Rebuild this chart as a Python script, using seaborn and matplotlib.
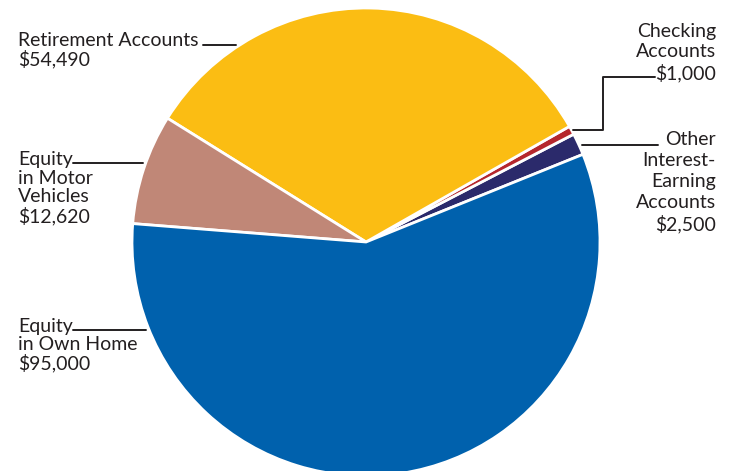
import matplotlib
matplotlib.use("Agg")
import matplotlib.pyplot as plt
import seaborn as sns

categories = ["Other Interest-Earning Accounts", "Checking Accounts", "Retirement Accounts",
              "Equity in Motor Vehicles", "Equity in Own Home"]
values = [2500, 1000, 54490, 12620, 95000]
colors = ["#2b2a6b", "#b5272d", "#fbbd13", "#c08777", "#0061ad"]
label_texts = ["Other\nInterest-\nEarning\nAccounts\n$2,500",
               "Checking\nAccounts\n$1,000",
               "Retirement Accounts\n$54,490",
               "Equity\nin Motor\nVehicles\n$12,620",
               "Equity\nin Own Home\n$95,000"]

sns.set_theme(style="white")
plt.rcParams['font.family'] = ['Lato', 'DejaVu Sans']

W, H = 732, 471
fig = plt.figure(figsize=(W / 100, H / 100), dpi=100)
ax = fig.add_axes([0, 0, 1, 1])

def py(y):
    return H - y

ax.pie(values, colors=colors, startangle=22, counterclock=True,
       center=(366, py(242)), radius=234,
       wedgeprops=dict(edgecolor="white", linewidth=2))
ax.set_xlim(0, W)
ax.set_ylim(0, H)
ax.set_aspect('equal')
ax.axis('off')

tc = "#231f20"
fs = 14
# Left labels
ax.text(18, py(32), label_texts[2], ha='left', va='top', fontsize=fs, color=tc, linespacing=1.05)
ax.text(18, py(151), label_texts[3], ha='left', va='top', fontsize=fs, color=tc, linespacing=1.11)
ax.text(18, py(318), label_texts[4], ha='left', va='top', fontsize=fs, color=tc, linespacing=1.05)
# Right labels
ax.text(716, py(23), label_texts[1], ha='right', va='top', fontsize=fs, color=tc, linespacing=1.22)
ax.text(716, py(131), label_texts[0], ha='right', va='top', fontsize=fs, color=tc, linespacing=1.28)

lc = "#231f20"
lw = 1.4
ax.plot([203, 236], [py(45), py(45)], color=lc, lw=lw)
ax.plot([73, 143], [py(163), py(163)], color=lc, lw=lw)
ax.plot([73, 146], [py(330), py(330)], color=lc, lw=lw)
ax.plot([573, 603, 603, 655], [py(130), py(130), py(77), py(77)], color=lc, lw=lw)
ax.plot([582, 658], [py(145), py(145)], color=lc, lw=lw)

fig.savefig("out.png", dpi=100)
